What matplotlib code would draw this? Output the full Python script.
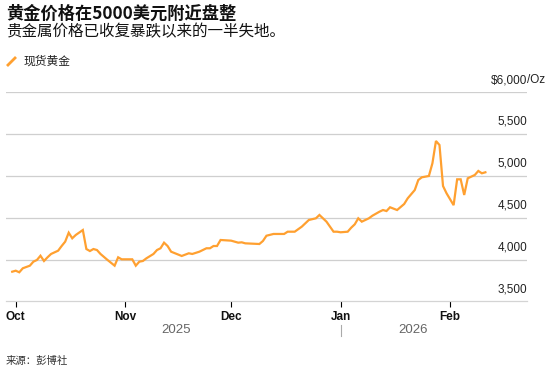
import matplotlib.pyplot as plt
import matplotlib.dates as mdates
import matplotlib.transforms as mtransforms
from matplotlib.lines import Line2D
import pandas as pd

plt.rcParams['font.family'] = ['Noto Sans CJK SC', 'DejaVu Sans']

# 现货黄金 (美元/盎司)
dates = [
    '2025-09-30', '2025-10-01', '2025-10-02', '2025-10-03', '2025-10-05', '2025-10-06',
    '2025-10-07', '2025-10-08', '2025-10-09', '2025-10-10', '2025-10-11', '2025-10-13',
    '2025-10-14', '2025-10-15', '2025-10-16', '2025-10-17', '2025-10-18', '2025-10-20',
    '2025-10-21', '2025-10-22', '2025-10-23', '2025-10-24', '2025-10-25', '2025-10-27',
    '2025-10-29', '2025-10-30', '2025-10-31', '2025-11-03', '2025-11-04', '2025-11-05',
    '2025-11-06', '2025-11-07', '2025-11-09', '2025-11-10', '2025-11-11', '2025-11-12',
    '2025-11-13', '2025-11-14', '2025-11-17', '2025-11-19', '2025-11-20', '2025-11-22',
    '2025-11-24', '2025-11-25', '2025-11-26', '2025-11-27', '2025-11-28', '2025-12-01',
    '2025-12-03', '2025-12-04', '2025-12-05', '2025-12-09', '2025-12-10', '2025-12-11',
    '2025-12-13', '2025-12-16', '2025-12-17', '2025-12-19', '2025-12-21', '2025-12-23',
    '2025-12-25', '2025-12-26', '2025-12-28', '2025-12-30', '2025-12-31', '2026-01-01',
    '2026-01-03', '2026-01-04', '2026-01-05', '2026-01-06', '2026-01-07', '2026-01-09',
    '2026-01-10', '2026-01-12', '2026-01-13', '2026-01-14', '2026-01-15', '2026-01-17',
    '2026-01-19', '2026-01-20', '2026-01-22', '2026-01-23', '2026-01-24', '2026-01-26',
    '2026-01-27', '2026-01-28', '2026-01-29', '2026-01-30', '2026-01-31', '2026-02-02',
    '2026-02-03', '2026-02-04', '2026-02-05', '2026-02-06', '2026-02-08', '2026-02-09',
    '2026-02-10', '2026-02-11',
]
prices = [
    3856, 3868, 3849, 3897, 3928, 3976,
    3996, 4047, 3984, 4028, 4068, 4107,
    4163, 4215, 4322, 4255, 4295, 4354,
    4127, 4103, 4127, 4115, 4068, 3996,
    3928, 4028, 4004, 4004, 3928, 3976,
    3984, 4016, 4068, 4115, 4136, 4203,
    4163, 4095, 4044, 4076, 4068, 4095,
    4136, 4136, 4163, 4163, 4235, 4227,
    4203, 4207, 4195, 4187, 4223, 4286,
    4307, 4307, 4334, 4334, 4394, 4474,
    4494, 4534, 4454, 4334, 4334, 4327,
    4334, 4382, 4422, 4494, 4454, 4494,
    4525, 4573, 4593, 4581, 4626, 4593,
    4665, 4733, 4832, 4952, 4984, 5000,
    5152, 5418, 5370, 4880, 4793, 4651,
    4960, 4960, 4773, 4972, 5012, 5060,
    5032, 5044,
]
y_ticks = [3500, 4000, 4500, 5000, 5500, 6000]
y_labels = ['3,500', '4,000', '4,500', '5,000', '5,500', '$6,000']
years = ['2025', '2026']

x = pd.to_datetime(dates)
orange = '#FFA030'

fig = plt.figure(figsize=(5.5, 3.79), dpi=100)
ax = fig.add_axes([0.0115, 0.2045, 0.947, 0.552])

ax.plot(x, prices, color=orange, lw=1.6, solid_joinstyle='miter', zorder=3)

ax.set_xlim(pd.Timestamp('2025-09-28 08:00'), pd.Timestamp('2026-02-22 20:00'))
ax.set_ylim(3500, 6000)

for s in ['top', 'right', 'left']:
    ax.spines[s].set_visible(False)
ax.spines['bottom'].set_color('#d4d4d4')
ax.spines['bottom'].set_linewidth(0.9)

ax.set_yticks(y_ticks[1:])
ax.tick_params(axis='y', length=0, labelleft=False)
ax.grid(axis='y', color='#cfcfcf', lw=0.9)
ax.set_axisbelow(True)

# y 标签：右对齐，放在网格线上方
lab_tr = mtransforms.offset_copy(ax.get_yaxis_transform(), fig=fig, x=0, y=4.5, units='points')
for v, t in zip(y_ticks, y_labels):
    ax.text(1.0, v, t, transform=lab_tr, ha='right', va='bottom', fontsize=8.5,
            family=['Liberation Sans'], color='#222222')
ax.text(1.0, y_ticks[-1], '/Oz', transform=lab_tr, ha='left', va='bottom', fontsize=8.5,
        family=['Liberation Sans'], color='#222222')

ax.xaxis.set_major_locator(mdates.MonthLocator())
ax.xaxis.set_major_formatter(mdates.DateFormatter('%b'))
ax.tick_params(axis='x', direction='out', length=4, width=0.8, color='black', pad=3)
for lbl in ax.get_xticklabels():
    lbl.set_family(['Liberation Sans'])
    lbl.set_fontsize(8.5)
    lbl.set_fontweight('bold')
    lbl.set_color('#111111')

# 年份标签
jan1 = pd.Timestamp('2026-01-01')
x_num = mdates.date2num(x)
j_num = mdates.date2num(jan1)
yr_tr = mtransforms.blended_transform_factory(ax.transData, ax.transAxes)
ax.text((x_num[0] + j_num) / 2, -0.135, years[0], transform=yr_tr, ha='center', va='center',
        fontsize=9.5, family=['Liberation Sans'], color='#666666')
ax.text((x_num[-1] + j_num) / 2, -0.135, years[1], transform=yr_tr, ha='center', va='center',
        fontsize=9.5, family=['Liberation Sans'], color='#666666')
ax.add_line(Line2D([j_num, j_num], [-0.112, -0.165], transform=yr_tr, color='#aaaaaa',
                   lw=0.8, clip_on=False))

# 标题、副标题、图例、来源
fig.text(0.011, 0.965, '黄金价格在5000美元附近盘整', fontsize=12.4, fontweight='bold',
         ha='left', va='center', color='#111111')
fig.text(0.011, 0.915, '贵金属价格已收复暴跌以来的一半失地。', fontsize=11.2,
         ha='left', va='center', color='#111111')
fig.add_artist(Line2D([7 / 550, 16 / 550], [1 - 66 / 379, 1 - 57 / 379], color=orange,
                      lw=2, solid_capstyle='butt'))
fig.text(24 / 550, 1 - 61.5 / 379, '现货黄金', fontsize=8.5, ha='left', va='center',
         color='#222222')
fig.text(0.011, 1 - 361 / 379, '来源：彭博社', fontsize=7.5, ha='left', va='center',
         color='#333333')

fig.savefig('out.png', dpi=100)
